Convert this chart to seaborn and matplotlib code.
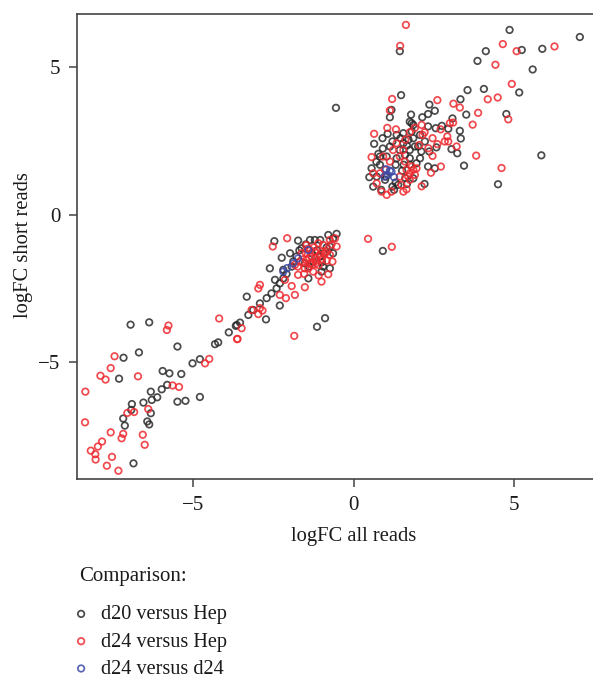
import matplotlib
matplotlib.use('Agg')
import matplotlib.pyplot as plt
import seaborn as sns

# logFC values: all reads (x) / short reads (y)
d20_hep = [
    (-6.96,-3.72),(-6.38,-3.64),(-5.50,-4.46),(-6.70,-4.66),(-7.18,-4.84),(-7.32,-5.55),(-5.96,-5.29),(-5.75,-5.37),
    (-5.38,-5.39),(-5.03,-5.03),(-4.80,-4.89),(-3.90,-3.98),(-3.65,-3.73),(-4.33,-4.38),(-4.23,-4.32),(-5.82,-5.76),
    (-5.99,-5.91),(-6.33,-5.99),(-6.13,-6.18),(-6.30,-6.27),(-6.56,-6.36),(-6.92,-6.41),(-6.94,-6.61),(-6.33,-6.72),
    (-7.19,-6.90),(-7.14,-7.14),(-6.44,-7.00),(-6.38,-7.10),(-5.50,-6.33),(-5.25,-6.30),(-4.80,-6.17),(-6.87,-8.42),
    (-2.48,-0.89),(-2.62,-1.81),(-3.34,-2.77),(-2.31,-3.07),(-2.74,-3.54),(-0.90,-3.50),(-1.15,-3.79),(-3.68,-3.76),
    (-3.55,-3.65),(-3.29,-3.39),(-3.14,-3.22),(-2.93,-3.00),(-2.72,-2.82),(-2.57,-2.66),(-2.41,-2.49),(-2.31,-2.32),
    (-2.46,-2.20),(-1.99,-1.30),(-1.94,-1.75),(-1.74,-0.87),(-1.37,-0.85),(-1.22,-0.85),(-0.80,-0.68),(-0.54,-0.64),
    (-0.65,-1.30),(-0.75,-1.81),(-1.01,-1.92),(-1.42,-2.15),(-1.32,-1.30),(-1.79,-1.41),(-1.63,-1.13),(-1.06,-1.41),
    (-0.96,-1.75),(-1.53,-1.64),(-1.27,-1.58),(-0.75,-1.07),(-2.20,-1.86),(-1.89,-1.58),(0.90,-1.22),(-0.56,3.63),
    (-1.50,-1.00),(-1.15,-1.20),(-0.95,-1.30),(-1.05,-0.85),(-0.65,-0.80),(-1.70,-1.20),(-2.25,-1.45),(-1.40,-1.75),
    (-1.00,-1.60),(-0.85,-1.10),(-2.10,-2.00),(-2.20,-2.15),
    (4.85,6.27),(7.04,6.03),(1.43,5.55),(4.11,5.55),(5.23,5.59),(5.87,5.63),(3.85,5.22),(5.57,4.93),
    (1.47,4.06),(3.54,4.23),(4.05,4.27),(5.15,4.15),(3.32,3.92),(2.35,3.74),(2.52,3.53),(2.31,3.42),
    (1.17,3.56),(1.12,3.31),(1.78,3.40),(2.13,3.31),(3.50,3.40),(4.75,3.42),(3.07,3.27),(1.74,3.16),
    (1.85,3.05),(1.80,3.11),(2.31,3.00),(2.55,2.94),(2.74,3.02),(2.94,2.92),(3.30,2.85),(3.33,2.59),
    (3.04,2.23),(3.22,2.09),(5.84,2.02),(3.43,1.67),(4.49,1.04),(2.57,2.29),(2.52,1.58),(2.31,1.64),
    (0.89,2.60),(0.63,2.41),(1.54,2.77),(1.85,2.60),(1.20,2.49),(0.76,2.07),(0.55,1.58),(0.48,1.28),
    (0.60,0.96),(1.85,1.24),(2.06,1.92),(1.43,2.20),(1.02,1.98),(1.33,1.92),(1.74,1.92),(0.81,1.70),
    (1.74,1.70),(1.20,0.96),(0.97,1.19),(1.54,2.43),(1.12,2.32),(1.59,2.03),(2.00,2.32),(2.21,2.49),
    (1.33,2.71),(1.74,2.20),(1.38,1.02),(0.71,1.30),(1.80,2.83),(2.06,2.71),(1.90,2.32),(0.81,1.98),
    (1.00,1.30),(1.30,1.10),(1.50,1.50),(1.60,1.25),(1.30,1.70),(1.55,1.70),(0.70,1.80),(0.90,2.25),
    (1.45,2.60),(1.70,2.55),(2.10,2.15),(1.95,1.75),(1.65,2.35),(1.05,2.75),(2.35,2.15),(1.25,0.85),
    (0.85,0.85),(1.65,1.05),(2.20,1.05),
]
d24_hep = [
    (-4.20,-3.51),(-5.78,-3.75),(-5.83,-3.90),(-7.46,-4.79),(-7.58,-5.19),(-7.90,-5.45),(-7.74,-5.58),(-6.73,-5.47),
    (-8.37,-5.99),(-8.38,-7.03),(-7.58,-7.37),(-7.19,-7.42),(-7.24,-7.57),(-6.58,-7.45),(-6.52,-7.79),(-7.85,-7.68),
    (-7.98,-7.85),(-8.20,-7.99),(-8.06,-8.11),(-8.05,-8.29),(-7.54,-8.20),(-7.70,-8.50),(-7.34,-8.67),(-6.41,-6.58),
    (-7.06,-6.71),(-6.85,-6.68),(-5.65,-5.78),(-5.45,-5.83),(-4.64,-5.03),(-4.51,-4.88),(-3.64,-4.21),
    (-2.08,-0.79),(-2.53,-1.07),(-2.93,-2.37),(-2.98,-2.49),(-3.19,-3.22),(-2.93,-3.16),(-2.85,-3.24),(-2.98,-3.36),
    (-3.50,-3.84),(-3.63,-4.20),(-1.86,-4.10),(-1.01,-2.26),(-0.80,-2.01),(-1.53,-2.45),(-1.84,-2.71),(-2.12,-2.82),
    (-2.31,-2.71),(-1.94,-2.41),(-2.15,-2.20),(-1.74,-2.03),(-0.67,-1.58),(-1.18,-1.64),(-1.48,-1.53),(-1.37,-1.64),
    (-1.27,-1.92),(-1.53,-1.81),(-1.63,-1.30),(-1.11,-0.96),(-0.85,-1.24),(-0.59,-0.79),(-0.54,-1.07),(-0.75,-0.85),
    (-0.96,-1.02),(-1.37,-1.19),(-1.84,-1.69),(-1.68,-1.58),(-1.48,-1.02),(-1.22,-1.24),(-1.06,-1.36),(-1.32,-1.41),
    (-1.42,-1.81),(-1.00,-1.50),(-1.20,-1.45),(-1.40,-1.45),(-1.10,-1.70),(-0.90,-1.30),(-0.70,-1.00),(-1.50,-1.30),
    (-1.60,-1.60),(-1.25,-1.10),(-0.85,-1.55),(-1.55,-2.00),(-1.10,-2.05),(0.44,-0.81),(1.18,-1.08),
    (-1.30,-1.70),(-1.15,-1.55),(-1.00,-1.25),(-0.75,-1.35),(-1.45,-1.15),(-1.75,-1.75),
    (1.62,6.44),(1.44,5.73),(4.64,5.79),(6.25,5.71),(5.07,5.55),(4.41,5.09),(4.92,4.44),(2.60,3.89),
    (1.19,3.93),(3.10,3.77),(3.30,3.64),(1.12,3.54),(4.17,3.92),(4.48,3.98),(3.87,3.46),(3.70,3.06),
    (4.81,3.24),(3.81,2.01),(4.60,1.59),(2.71,1.64),(2.40,1.43),(2.11,0.97),(3.09,3.13),(2.99,3.11),
    (2.91,2.66),(2.83,2.49),(3.20,2.32),(2.94,2.49),(1.04,2.95),(1.31,2.90),(0.63,2.75),(1.74,2.80),
    (2.14,2.71),(2.11,3.05),(2.45,2.60),(2.32,2.26),(2.04,2.37),(0.55,1.96),(0.71,1.07),(0.86,0.79),
    (1.02,0.68),(1.54,0.79),(1.64,0.87),(1.48,1.02),(1.17,0.79),(1.74,1.41),(1.85,1.53),(1.69,1.30),
    (1.95,1.58),(1.80,1.64),(1.90,1.36),(1.74,1.19),(1.64,1.53),(1.59,1.81),(1.43,1.98),(1.22,2.20),
    (1.54,2.20),(1.12,1.81),(1.33,2.43),(0.91,1.98),(0.97,1.53),(0.81,1.41),(0.60,1.41),(1.43,1.30),
    (2.60,2.40),(2.20,2.80),(1.60,2.55),(1.90,2.95),(2.70,2.90),(2.45,2.00),
]
d24_d24 = [
    (-2.20,-1.92),(-2.08,-1.80),(-1.89,-1.64),(-1.74,-1.47),(-1.42,-1.19),
    (1.00,1.55),(1.17,1.47),(0.95,1.30),(1.25,1.28),(1.12,1.50),(1.05,1.36),
]

series_names = ['d20 versus Hep', 'd24 versus Hep', 'd24 versus d24']
series_values = [d20_hep, d24_hep, d24_d24]
series_colors = ['#2b2b2b', '#ee2a30', '#3c4aa8']

sns.set_style('ticks')
plt.rcParams['font.family'] = ['Liberation Serif', 'DejaVu Serif']

fig = plt.figure(figsize=(5.93, 6.81), dpi=100)
ax = fig.add_axes([77 / 593, 1 - 479 / 681, 516 / 593, 465 / 681])

for name, values, col in zip(series_names, series_values, series_colors):
    xs = [p[0] for p in values]
    ys = [p[1] for p in values]
    sns.scatterplot(x=xs, y=ys, ax=ax, facecolors='none', edgecolor=col, s=22,
                    linewidth=1.25, alpha=0.85, label=name)

ax.set_xlim(-8.63, 7.45)
ax.set_ylim(-8.95, 6.81)
ax.set_xticks([-5, 0, 5])
ax.set_yticks([-5, 0, 5])
ax.set_xticklabels(['\u22125', '0', '5'])
ax.set_yticklabels(['\u22125', '0', '5'])
ax.tick_params(labelsize=15, length=6, width=1.1, color='#444444', labelcolor='#1a1a1a', pad=6)
ax.set_xlabel('logFC all reads', fontsize=14.8, color='#1a1a1a', va='center')
ax.set_ylabel('logFC short reads', fontsize=14.8, color='#1a1a1a', va='center')
ax.xaxis.set_label_coords(0.537, -0.124)
ax.yaxis.set_label_coords(-0.103, 0.503)

ax.spines['right'].set_visible(False)
for side in ['left', 'top', 'bottom']:
    ax.spines[side].set_color('#444444')
    ax.spines[side].set_linewidth(1.2)

fig.text(79 / 593, 1 - 576 / 681, 'Comparison:', fontsize=15, color='#1a1a1a', va='center')
leg = ax.legend(loc='upper left', bbox_to_anchor=(73 / 593, 1 - 605 / 681), bbox_transform=fig.transFigure,
                frameon=False, fontsize=14.6, labelspacing=0.4, handlelength=0.8, handletextpad=0.58,
                borderpad=0, borderaxespad=0, markerscale=1.0, labelcolor='#1a1a1a')

fig.savefig('out.png', dpi=100)
